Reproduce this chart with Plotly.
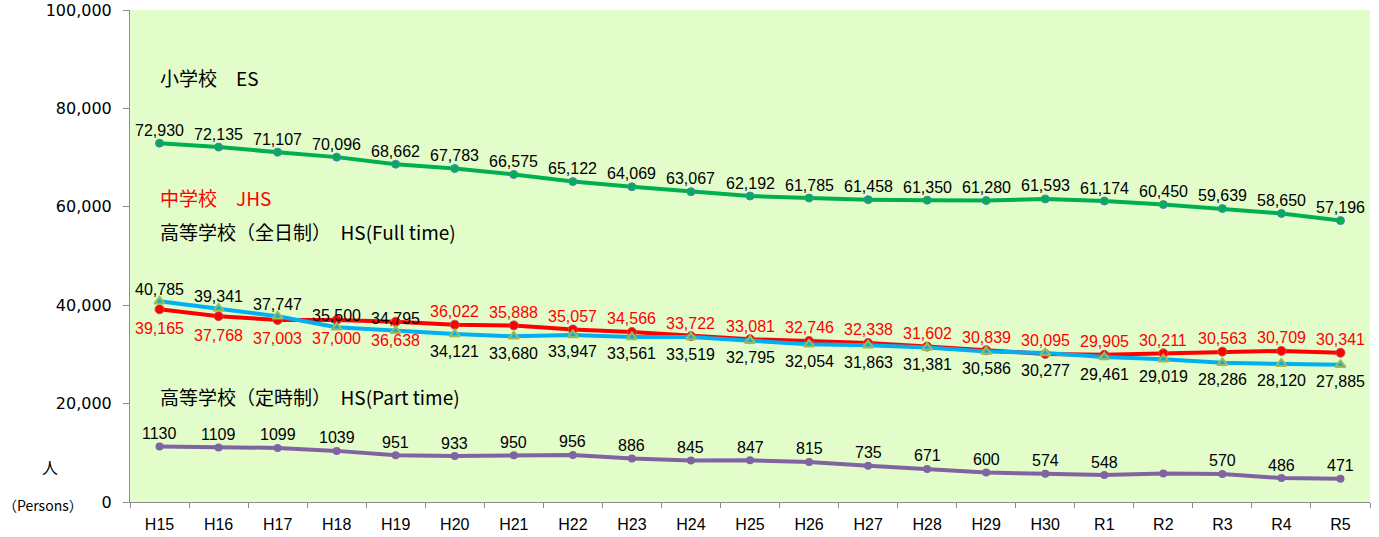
import plotly.graph_objects as go

years = ["H15", "H16", "H17", "H18", "H19", "H20", "H21", "H22", "H23", "H24", "H25",
         "H26", "H27", "H28", "H29", "H30", "R1", "R2", "R3", "R4", "R5"]

es = [72930, 72135, 71107, 70096, 68662, 67783, 66575, 65122, 64069, 63067, 62192,
      61785, 61458, 61350, 61280, 61593, 61174, 60450, 59639, 58650, 57196]
jhs = [39165, 37768, 37003, 37000, 36638, 36022, 35888, 35057, 34566, 33722, 33081,
       32746, 32338, 31602, 30839, 30095, 29905, 30211, 30563, 30709, 30341]
hs_full = [40785, 39341, 37747, 35500, 34795, 34121, 33680, 33947, 33561, 33519, 32795,
           32054, 31863, 31381, 30586, 30277, 29461, 29019, 28286, 28120, 27885]
# part-time values (plotted at 10x scale in the original chart); R2 has no label shown
hs_part = [1130, 1109, 1099, 1039, 951, 933, 950, 956, 886, 845, 847,
           815, 735, 671, 600, 574, 548, 578, 570, 486, 471]
hs_part_unlabeled = ["R2"]
part_scale = 10

y_ticks = [0, 20000, 40000, 60000, 80000, 100000]

LABEL_FONT = "Liberation Sans, Arial"
JP_FONT = "Noto Sans CJK JP"

fig = go.Figure()


def fmt(v):
    return f"{v:,}"


fig.add_trace(go.Scatter(
    x=years, y=es, mode="lines+markers",
    line=dict(color="#00B050", width=4),
    marker=dict(symbol="circle", size=8, color="#00B050", line=dict(color="#4F81BD", width=1)),
    showlegend=False))

fig.add_trace(go.Scatter(
    x=years, y=jhs, mode="lines+markers",
    line=dict(color="#FF0000", width=4),
    marker=dict(symbol="circle", size=9, color="#FF0000", line=dict(color="#C0504D", width=1)),
    showlegend=False))

fig.add_trace(go.Scatter(
    x=years, y=hs_full, mode="lines+markers",
    line=dict(color="#00B0F0", width=4),
    marker=dict(symbol="triangle-up", size=9, color="#00B0F0", line=dict(color="#9BBB59", width=2)),
    showlegend=False))

pt_plot = [v * part_scale for v in hs_part]
fig.add_trace(go.Scatter(
    x=years, y=pt_plot, mode="lines+markers",
    line=dict(color="#8064A2", width=4),
    marker=dict(symbol="circle", size=8, color="#8064A2"),
    showlegend=False))

ann = []


def add_label(x, y, text, shift, color):
    ann.append(dict(x=x, y=y, xref="x", yref="y", text=text, showarrow=False,
                    yshift=shift, xanchor="center", yanchor="middle",
                    font=dict(family=LABEL_FONT, size=16, color=color)))


for i, yr in enumerate(years):
    add_label(yr, es[i], fmt(es[i]), 13, "black")
    add_label(yr, jhs[i], fmt(jhs[i]), -19 if i < 5 else 13, "#FF0000")
    add_label(yr, hs_full[i], fmt(hs_full[i]), 12 if i < 5 else -17, "black")
    if yr not in hs_part_unlabeled:
        add_label(yr, pt_plot[i], str(hs_part[i]), 13, "black")

series_titles = [
    dict(text="小学校　ES", y=78, color="black"),
    dict(text="中学校　JHS", y=197, color="#FF0000"),
    dict(text="高等学校（全日制）　HS(Full time)", y=231, color="black"),
    dict(text="高等学校（定時制）　HS(Part time)", y=396, color="black"),
]
for a in series_titles:
    ann.append(dict(text=a["text"], xref="paper", yref="paper",
                    x=28 / 1240, y=1 - (a["y"] - 10) / 492, xanchor="left", yanchor="middle",
                    showarrow=False, font=dict(family=JP_FONT, size=19, color=a["color"])))
ann.append(dict(text="人", xref="paper", yref="paper", x=(50 - 130) / 1240, y=1 - (467 - 10) / 492,
                xanchor="center", yanchor="middle", showarrow=False,
                font=dict(family=JP_FONT, size=16, color="black")))
ann.append(dict(text="（Persons）", xref="paper", yref="paper", x=(43 - 130) / 1240,
                y=1 - (505 - 10) / 492,
                xanchor="center", yanchor="middle", showarrow=False,
                font=dict(family=JP_FONT, size=14, color="black")))

fig.update_layout(
    width=1379, height=537,
    margin=dict(l=130, r=9, t=10, b=35),
    paper_bgcolor="white",
    plot_bgcolor="#E2FDCA",
    annotations=ann,
    xaxis=dict(
        type="category", showgrid=False, showline=True, linecolor="#8C8C8C", linewidth=1,
        ticks="outside", tickson="boundaries", ticklen=5, tickcolor="#8C8C8C",
        tickfont=dict(family="Liberation Sans, Arial", size=16, color="black"),
        range=[-0.5, len(years) - 0.5], automargin=False, ticklabelstandoff=8,
    ),
    yaxis=dict(
        range=[0, 100000], tickvals=y_ticks, tickformat=",d",
        showgrid=False, zeroline=False, showline=True, linecolor="#8C8C8C", linewidth=1,
        ticks="outside", ticklen=6, tickcolor="#8C8C8C",
        tickfont=dict(family="DejaVu Sans", size=16, color="black"),
        ticklabelstandoff=8, automargin=False,
    ),
)

fig.write_html("out.html", config={"displayModeBar": False},
               post_script="document.body.style.margin='0';document.body.style.overflow='hidden';")
